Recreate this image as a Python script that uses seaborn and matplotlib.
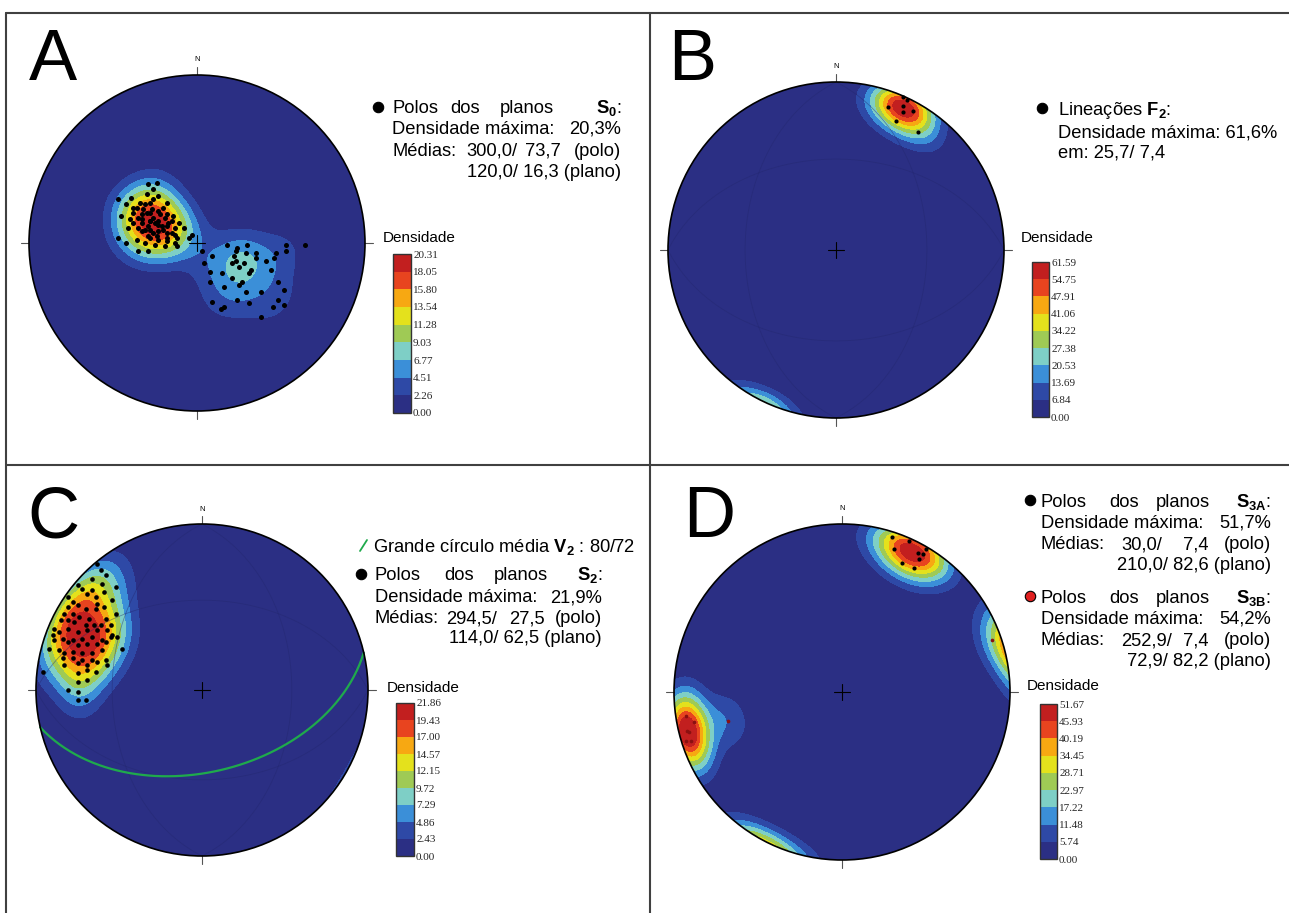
import numpy as np
import matplotlib
matplotlib.use("Agg")
import matplotlib.pyplot as plt
import seaborn as sns
from matplotlib.lines import Line2D
from matplotlib.patches import Circle

sns.set_style("white")
plt.rcParams['font.family'] = ['Liberation Sans', 'DejaVu Sans']
plt.rcParams['text.color'] = 'black'
plt.rcParams['mathtext.fontset'] = 'custom'
plt.rcParams['mathtext.rm'] = 'Liberation Sans'
plt.rcParams['mathtext.bf'] = 'Liberation Sans:bold'
plt.rcParams['mathtext.it'] = 'Liberation Sans:italic'

W, H = 1289, 913

# ---- data (pole / lineation positions on the equal-area net, east & north) ----
a_east = [-0.24, -0.29, -0.26, -0.30, -0.23, -0.47, -0.39, -0.42, -0.34, -0.28,
          -0.18, -0.36, -0.32, -0.38, -0.45, -0.35, -0.26, -0.19, -0.14, -0.40,
          -0.33, -0.29, -0.23, -0.17, -0.11, -0.41, -0.35, -0.20, -0.15, -0.08,
          -0.47, -0.36, -0.29, -0.24, -0.18, -0.12, -0.05, -0.42, -0.31, -0.25,
          -0.19, -0.12, -0.03, -0.35, -0.29, 0.03, 0.09,
          -0.30, -0.27, -0.25, -0.22, -0.31, -0.26, -0.21, -0.28,
          -0.33, -0.33, -0.33, -0.28, -0.28, -0.28, -0.28, -0.23, -0.23, -0.23,
          -0.23, -0.18, -0.18, -0.18, -0.18, -0.13, -0.13, -0.13, -0.38, -0.38,
          -0.26, -0.31, -0.20, -0.15,
          0.18, 0.30, 0.53, 0.64, 0.23, 0.23, 0.21, 0.29, 0.35, 0.47,
          0.53, 0.35, 0.46, 0.04, 0.28, 0.41, 0.08, 0.15, 0.32, 0.31,
          0.44, 0.21, 0.48, 0.08, 0.16, 0.25, 0.27, 0.29, 0.38, 0.52,
          0.09, 0.24, 0.31, 0.48, 0.16, 0.14, 0.45, 0.52, 0.38,
          0.24, 0.25, 0.22]
a_north = [0.36, 0.35, 0.32, 0.29, 0.28, 0.26, 0.27, 0.23, 0.24, 0.24,
           0.24, 0.21, 0.20, 0.18, 0.16, 0.15, 0.15, 0.15, 0.16, 0.14,
           0.14, 0.10, 0.11, 0.12, 0.12, 0.09, 0.09, 0.08, 0.06, 0.09,
           0.03, 0.02, 0.04, 0.04, 0.03, 0.03, 0.03, 0.00, 0.00, -0.01,
           -0.02, -0.02, 0.05, -0.05, -0.05, -0.05, -0.08,
           0.18, 0.20, 0.12, 0.17, 0.08, 0.06, 0.10, 0.13,
           0.07, 0.12, 0.17, 0.03, 0.08, 0.13, 0.18, 0.02, 0.07, 0.13,
           0.19, 0.01, 0.06, 0.10, 0.17, 0.00, 0.05, 0.09, 0.12, 0.21,
           0.26, 0.23, 0.21, 0.13,
           -0.01, -0.01, -0.01, -0.01, -0.05, -0.11, -0.12, -0.06, -0.06, -0.06,
           -0.05, -0.09, -0.09, -0.12, -0.12, -0.11, -0.17, -0.18, -0.16, -0.18,
           -0.16, -0.21, -0.23, -0.23, -0.26, -0.25, -0.23, -0.29, -0.29, -0.28,
           -0.35, -0.34, -0.36, -0.34, -0.38, -0.39, -0.38, -0.37, -0.44,
           -0.03, -0.14, -0.08]

b_east = [0.31, 0.42, 0.40, 0.40, 0.46, 0.40, 0.36, 0.49]
b_north = [0.85, 0.89, 0.91, 0.86, 0.83, 0.82, 0.77, 0.70]

c_east = [-0.63, -0.61, -0.58, -0.66, -0.75, -0.60, -0.52, -0.72, -0.66, -0.69,
          -0.59, -0.81, -0.64, -0.54, -0.78, -0.63, -0.75, -0.81, -0.70, -0.64,
          -0.59, -0.52, -0.83, -0.78, -0.74, -0.68, -0.58, -0.85, -0.81, -0.77,
          -0.70, -0.65, -0.61, -0.55, -0.89, -0.81, -0.75, -0.69, -0.63, -0.57,
          -0.54, -0.90, -0.84, -0.78, -0.72, -0.66, -0.60, -0.55,
          -0.86, -0.51, -0.89, -0.81, -0.75, -0.69, -0.63, -0.58, -0.92, -0.86,
          -0.83, -0.78, -0.72, -0.66, -0.60, -0.48, -0.84, -0.78, -0.72, -0.66,
          -0.58, -0.83, -0.75, -0.69, -0.63, -0.57, -0.75, -0.69, -0.64, -0.75,
          -0.69, -0.81, -0.75, -0.75, -0.70, -0.96]
c_north = [0.76, 0.72, 0.69, 0.67, 0.63, 0.64, 0.62, 0.61, 0.60, 0.58,
           0.59, 0.56, 0.56, 0.54, 0.53, 0.52, 0.51, 0.50, 0.49, 0.49,
           0.50, 0.46, 0.46, 0.46, 0.44, 0.43, 0.43, 0.42, 0.42, 0.41,
           0.39, 0.39, 0.39, 0.39, 0.37, 0.37, 0.35, 0.36, 0.36, 0.36,
           0.33, 0.33, 0.31, 0.30, 0.31, 0.32, 0.30, 0.32,
           0.35, 0.32, 0.30, 0.29, 0.27, 0.28, 0.28, 0.29, 0.25, 0.24,
           0.22, 0.23, 0.22, 0.22, 0.24, 0.25, 0.19, 0.19, 0.18, 0.18,
           0.18, 0.15, 0.16, 0.15, 0.17, 0.15, 0.10, 0.12, 0.11, 0.05,
           0.06, 0.00, -0.01, -0.06, -0.06, 0.11]

d3a_east = [0.30, 0.40, 0.31, 0.45, 0.48, 0.50, 0.46, 0.36, 0.43]
d3a_north = [0.92, 0.90, 0.85, 0.83, 0.82, 0.85, 0.79, 0.77, 0.74]
d3b_east = [-0.93, -0.88, -0.92, -0.90, -0.93, -0.91, -0.68, 0.89]
d3b_north = [-0.14, -0.18, -0.23, -0.29, -0.29, -0.24, -0.17, 0.31]

# great circle V2 (dip direction / dip read from the net)
v2_dip_dir, v2_dip = 167, 49

# colour-bar levels (Densidade)
ticks_a = [0.00, 2.26, 4.51, 6.77, 9.03, 11.28, 13.54, 15.80, 18.05, 20.31]
ticks_b = [0.00, 6.84, 13.69, 20.53, 27.38, 34.22, 41.06, 47.91, 54.75, 61.59]
ticks_c = [0.00, 2.43, 4.86, 7.29, 9.72, 12.15, 14.57, 17.00, 19.43, 21.86]
ticks_d = [0.00, 5.74, 11.48, 17.22, 22.97, 28.71, 34.45, 40.19, 45.93, 51.67]
max_d3b = 54.2

band_colors = ['#2b2f84', '#2e49a6', '#3b8fd8', '#7ecfc6', '#9fca55',
               '#e4e11c', '#f7a812', '#e8441f', '#c21f1f']


def to_vec(e, n):
    e = np.asarray(e, float)
    n = np.asarray(n, float)
    r = np.clip(np.hypot(e, n), 0, 1)
    colat = 2 * np.arcsin(r / np.sqrt(2))
    az = np.arctan2(e, n)
    return np.stack([np.sin(colat) * np.sin(az), np.sin(colat) * np.cos(az),
                     np.cos(colat)], axis=-1)


g = np.linspace(-1.04, 1.04, 261)
ge, gn = np.meshgrid(g, g)
gvec = to_vec(ge, gn)


def density(e, n, k, top, wrap):
    # exponential kernel; 'wrap' weights the contribution across the primitive
    dots = gvec @ to_vec(e, n).T
    d = (np.exp(k * (dots - 1)) + wrap * np.exp(k * (-dots - 1))).sum(axis=-1)
    return d / d.max() * top


def great_circle(dip_dir, dip):
    dd, dp = np.radians(dip_dir), np.radians(dip)
    s = dd - np.pi / 2
    t = np.linspace(0, np.pi, 181)
    sv = np.array([np.sin(s), np.cos(s), 0.0])
    dv = np.array([np.cos(dp) * np.sin(dd), np.cos(dp) * np.cos(dd), np.sin(dp)])
    v = np.outer(np.cos(t), sv) + np.outer(np.sin(t), dv)
    colat = np.arccos(np.clip(v[:, 2], -1, 1))
    az = np.arctan2(v[:, 0], v[:, 1])
    r = np.sqrt(2) * np.sin(colat / 2)
    return r * np.sin(az), r * np.cos(az)


fig = plt.figure(figsize=(W / 100, H / 100), dpi=100)
fig.patch.set_facecolor('white')


def ftext(x, y, s, **kw):
    fig.text(x / W, 1 - y / H, s, **kw)


def bullet(x, y, fc='k'):
    fig.add_artist(Line2D([x / W], [1 - y / H], marker='o', ms=7.5, mfc=fc,
                          mec='k', mew=0.8, transform=fig.transFigure))


def stereonet(cx, cy, R, field, levels, grid=False):
    L = 1.15
    ax = fig.add_axes([(cx - L * R) / W, (H - cy - L * R) / H,
                       2 * L * R / W, 2 * L * R / H])
    cf = ax.contourf(ge, gn, field, levels=levels, colors=band_colors)
    cf.set_clip_path(Circle((0, 0), 1, transform=ax.transData))
    if grid:
        for ddir in (0, 90, 180, 270):
            x, y = great_circle(ddir, 45)
            ax.plot(x, y, color='#23276e', lw=0.6, alpha=0.45)
    ax.add_patch(Circle((0, 0), 1, fill=False, ec='k', lw=1.2, zorder=5))
    for ang in (0, 90, 180, 270):
        a = np.radians(ang)
        ax.plot([np.sin(a), 1.05 * np.sin(a)], [np.cos(a), 1.05 * np.cos(a)],
                color='#555555', lw=0.8)
    ax.plot([-0.05, 0.05], [0, 0], color='k', lw=0.8, zorder=6)
    ax.plot([0, 0], [-0.05, 0.05], color='k', lw=0.8, zorder=6)
    ax.text(0, 1.09, 'N', ha='center', va='center', fontsize=5.5)
    return ax, cf


def finish(ax):
    ax.set_xlim(-1.15, 1.15)
    ax.set_ylim(-1.15, 1.15)
    ax.set_aspect('equal')
    ax.axis('off')


def colorbar(cf, levels, x, y, w, h, lx, ly):
    cax = fig.add_axes([x / W, 1 - (y + h) / H, w / W, h / H])
    cb = fig.colorbar(cf, cax=cax, ticks=levels)
    cb.ax.set_yticklabels([f'{t:.2f}' for t in levels],
                          fontfamily='Liberation Serif', fontsize=8)
    cb.ax.tick_params(length=0, pad=1.5)
    cb.outline.set_linewidth(1.0)
    cb.outline.set_edgecolor('#333333')
    ftext(lx, ly, 'Densidade', fontsize=11, ha='center', va='center')


FS = 13.2

# ---------------- A ----------------
dens_a = density(a_east, a_north, 45, ticks_a[-1], 1.0)
ax, cf = stereonet(197, 243, 168, dens_a, ticks_a)
sns.scatterplot(x=a_east, y=a_north, ax=ax, color='k', s=13, linewidth=0,
                legend=False, zorder=4)
finish(ax)
colorbar(cf, ticks_a, 393, 254, 18, 159, 419, 238)
ftext(29, 80, 'A', fontsize=52, va='baseline')
bullet(378, 107)
for w_, x_ in [('Polos', 392), ('dos', 450), ('planos', 500)]:
    ftext(x_, 113, w_, fontsize=FS, va='baseline')
ftext(621, 113, r'$\mathbf{S}_{\mathbf{0}}$:', fontsize=FS, va='baseline', ha='right')
ftext(392, 134, 'Densidade máxima:', fontsize=FS, va='baseline')
ftext(621, 134, '20,3%', fontsize=FS, va='baseline', ha='right')
ftext(392, 156, 'Médias:', fontsize=FS, va='baseline')
ftext(466, 156, '300,0/', fontsize=FS, va='baseline')
ftext(525, 156, '73,7', fontsize=FS, va='baseline')
ftext(621, 156, '(polo)', fontsize=FS, va='baseline', ha='right')
ftext(621, 177, '120,0/ 16,3 (plano)', fontsize=FS, va='baseline', ha='right')

# ---------------- B ----------------
dens_b = density(b_east, b_north, 55, ticks_b[-1], 0.6)
ax, cf = stereonet(836, 250, 168, dens_b, ticks_b, grid=True)
sns.scatterplot(x=b_east, y=b_north, ax=ax, color='k', s=9, linewidth=0,
                legend=False, zorder=4)
finish(ax)
colorbar(cf, ticks_b, 1032, 262, 17, 155, 1057, 238)
ftext(668, 80, 'B', fontsize=52, va='baseline')
bullet(1042, 108)
ftext(1058, 115, r'Lineações $\mathbf{F}_{\mathbf{2}}$:', fontsize=FS, va='baseline')
ftext(1058, 137, 'Densidade máxima: 61,6%', fontsize=FS, va='baseline')
ftext(1058, 158, 'em: 25,7/ 7,4', fontsize=FS, va='baseline')

# ---------------- C ----------------
dens_c = density(c_east, c_north, 45, ticks_c[-1], 0.3)
ax, cf = stereonet(202, 690, 166, dens_c, ticks_c, grid=True)
gx, gy = great_circle(v2_dip_dir, v2_dip)
ax.plot(gx, gy, color='#1faa4c', lw=1.6, zorder=4)
sns.scatterplot(x=c_east, y=c_north, ax=ax, color='k', s=11, linewidth=0,
                legend=False, zorder=4)
finish(ax)
colorbar(cf, ticks_c, 396, 703, 18, 153, 423, 688)
ftext(27, 537, 'C', fontsize=52, va='baseline')
fig.add_artist(Line2D([360 / W, 367 / W], [1 - 551 / H, 1 - 540 / H],
                      color='#1faa4c', lw=1.3, transform=fig.transFigure))
ftext(373, 552, r'Grande círculo média $\mathbf{V}_{\mathbf{2}}$ : 80/72',
      fontsize=FS, va='baseline')
bullet(361, 574)
for w_, x_ in [('Polos', 375), ('dos', 444), ('planos', 494)]:
    ftext(x_, 580, w_, fontsize=FS, va='baseline')
ftext(602, 580, r'$\mathbf{S}_{\mathbf{2}}$:', fontsize=FS, va='baseline', ha='right')
ftext(375, 602, 'Densidade máxima:', fontsize=FS, va='baseline')
ftext(602, 602, '21,9%', fontsize=FS, va='baseline', ha='right')
ftext(375, 623, 'Médias:', fontsize=FS, va='baseline')
ftext(446, 623, '294,5/', fontsize=FS, va='baseline')
ftext(509, 623, '27,5', fontsize=FS, va='baseline')
ftext(602, 623, '(polo)', fontsize=FS, va='baseline', ha='right')
ftext(602, 643, '114,0/ 62,5 (plano)', fontsize=FS, va='baseline', ha='right')

# ---------------- D ----------------
dens_d = np.maximum(density(d3a_east, d3a_north, 45, ticks_d[-1], 0.8),
                    density(d3b_east, d3b_north, 45, max_d3b, 0.8))
dens_d = np.minimum(dens_d, ticks_d[-1] - 0.01)
ax, cf = stereonet(842, 692, 168, dens_d, ticks_d)
sns.scatterplot(x=d3a_east, y=d3a_north, ax=ax, color='k', s=9, linewidth=0,
                legend=False, zorder=4)
sns.scatterplot(x=d3b_east, y=d3b_north, ax=ax, color='#8a1010', s=7, linewidth=0,
                legend=False, zorder=4)
finish(ax)
colorbar(cf, ticks_d, 1040, 704, 17, 155, 1063, 686)
ftext(683, 537, 'D', fontsize=52, va='baseline')
for yb, sub, dmax, med, pol, pla in [(507, '3A', '51,7%', '30,0/', '7,4', '210,0/ 82,6 (plano)'),
                                     (603, '3B', '54,2%', '252,9/', '7,4', '72,9/ 82,2 (plano)')]:
    bullet(1030, yb - 7, 'k' if sub == '3A' else '#e02020')
    for w_, x_ in [('Polos', 1041), ('dos', 1109), ('planos', 1156)]:
        ftext(x_, yb, w_, fontsize=FS, va='baseline')
    ftext(1271, yb, r'$\mathbf{S}_{\mathbf{%s}}$:' % sub, fontsize=FS, va='baseline', ha='right')
    ftext(1041, yb + 21, 'Densidade máxima:', fontsize=FS, va='baseline')
    ftext(1271, yb + 21, dmax, fontsize=FS, va='baseline', ha='right')
    ftext(1041, yb + 42, 'Médias:', fontsize=FS, va='baseline')
    ftext(1121, yb + 42, med, fontsize=FS, va='baseline')
    ftext(1183, yb + 42, pol, fontsize=FS, va='baseline')
    ftext(1271, yb + 42, '(polo)', fontsize=FS, va='baseline', ha='right')
    ftext(1271, yb + 63, pla, fontsize=FS, va='baseline', ha='right')

# panel frame lines
for (x0, y0, x1, y1) in [(6, 13, 1289, 13), (6, 13, 6, 913), (650, 13, 650, 913),
                         (6, 465, 1289, 465)]:
    fig.add_artist(Line2D([x0 / W, x1 / W], [1 - y0 / H, 1 - y1 / H],
                          color='#404040', lw=1.5, transform=fig.transFigure))

fig.savefig('out.png', dpi=100, facecolor='white')
